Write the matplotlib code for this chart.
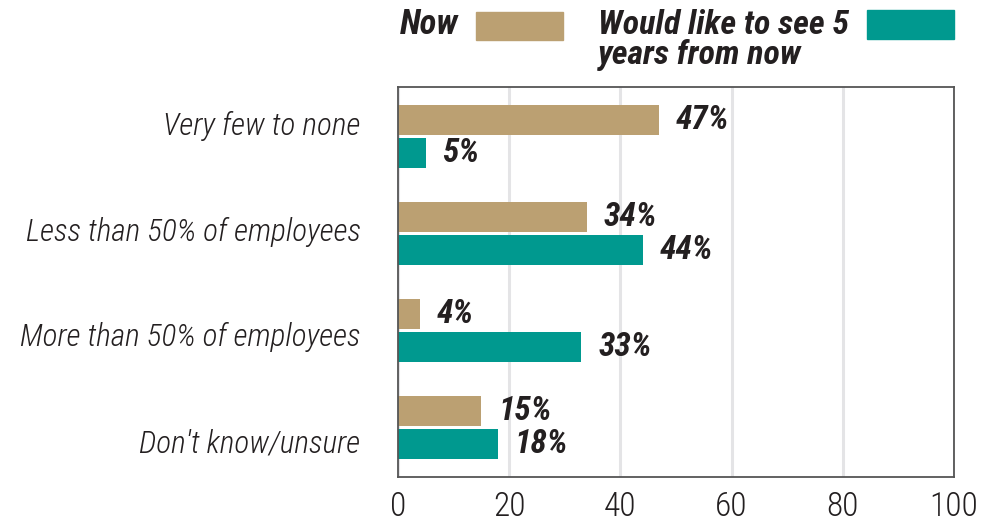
import matplotlib
matplotlib.use("Agg")
import matplotlib.pyplot as plt
from matplotlib import font_manager as fm
from matplotlib.patches import Rectangle
import numpy as np

categories = ["Very few to none", "Less than 50% of employees",
              "More than 50% of employees", "Don't know/unsure"]
now_vals = [47, 34, 4, 15]
future_vals = [5, 44, 33, 18]
series_names = ["Now", "Would like to see 5\nyears from now"]
xticks = [0, 20, 40, 60, 80, 100]

TAN = "#BBA072"
TEAL = "#00998F"
TXT = "#231F20"

names = {f.name for f in fm.fontManager.ttflist}
family = "DejaVu Sans"
for cand in ["Roboto Condensed", "Liberation Sans Narrow", "Open Sans Condensed"]:
    if cand in names:
        family = cand
        break
plt.rcParams["font.family"] = [family, "DejaVu Sans"]
plt.rcParams["font.stretch"] = "condensed"

fig = plt.figure(figsize=(9.92, 5.23), dpi=100)
ax = fig.add_axes([398/992, 1-477/523, (954-398)/992, (477-87)/523])

y = np.arange(len(categories))
h = 0.31
off = 0.17
ax.barh(y - off, now_vals, height=h, color=TAN, zorder=3)
ax.barh(y + off, future_vals, height=h, color=TEAL, zorder=3)

for yi, v in zip(y - off, now_vals):
    ax.annotate(f"{v}%", (v, yi), xytext=(12, 0), textcoords="offset points",
                va="center", ha="left", fontsize=24, fontweight="bold",
                fontstyle="italic", color=TXT)
for yi, v in zip(y + off, future_vals):
    ax.annotate(f"{v}%", (v, yi), xytext=(12, 0), textcoords="offset points",
                va="center", ha="left", fontsize=24, fontweight="bold",
                fontstyle="italic", color=TXT)

ax.set_xlim(0, 100)
ax.set_ylim(3.51, -0.51)
ax.set_xticks(xticks)
ax.set_xticklabels([str(t) for t in xticks], fontsize=24, color=TXT, fontweight="light")
ax.set_yticks(y * 1.09 - 0.14)
ax.set_yticklabels(categories, fontsize=22.5, fontstyle="italic", color=TXT, fontweight="light")
ax.tick_params(axis="both", length=0)
ax.tick_params(axis="x", pad=10)
ax.tick_params(axis="y", pad=27)
ax.grid(axis="x", color="#E4E4E6", linewidth=2.2, zorder=0)
for s in ax.spines.values():
    s.set_color("#555555")
    s.set_linewidth(1.3)
    s.set_zorder(4)

# legend
fig.text(400/992, 1-24/523, series_names[0], fontsize=25, fontweight="bold",
         fontstyle="italic", color=TXT, va="center", ha="left")
fig.patches.append(Rectangle((476/992, 1-40/523), 87/992, 28/523,
                             transform=fig.transFigure, color=TAN))
fig.text(598/992, 1-40/523, series_names[1], fontsize=24.5, fontweight="bold",
         fontstyle="italic", color=TXT, va="center", ha="left", linespacing=0.92)
fig.patches.append(Rectangle((867/992, 1-39/523), 87/992, 29/523,
                             transform=fig.transFigure, color=TEAL))

fig.savefig("out.png", dpi=100)
